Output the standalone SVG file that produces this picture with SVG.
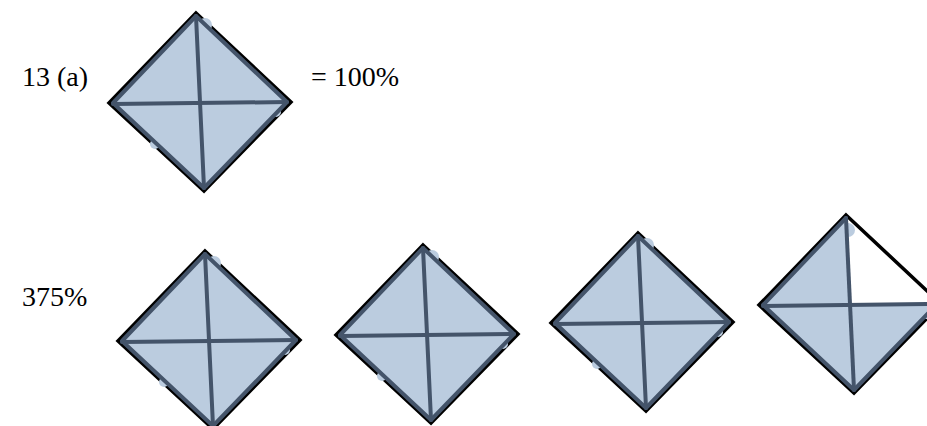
<svg xmlns="http://www.w3.org/2000/svg" xmlns:xlink="http://www.w3.org/1999/xlink" width="927" height="426" viewBox="0 0 927 426">
<style>
  .lbl { font-family: "Liberation Serif", "Times New Roman", serif; font-size: 28px; fill: #000; }
  .outer { fill: none; stroke: #000; stroke-width: 3.5; stroke-linejoin: miter; }
  .fill { fill: #BBCCDF; stroke: none; }
  .inner { fill: none; stroke: #44546A; stroke-width: 4; stroke-linejoin: round; stroke-linecap: round; }
  .blob { fill: #BBCCDF; }
</style>
<defs>
  <g id="full">
    <polygon class="outer" points="-4,-89 91,0 4,89 -91,1"/>
    <circle class="blob" cx="5" cy="-77" r="7"/>
    <circle class="blob" cx="-45" cy="42" r="5"/>
    <circle class="blob" cx="76" cy="10" r="5"/>
    <polygon class="fill" points="-4,-86 87,0 4,86 -87,1"/>
    <polygon class="inner" points="-4,-86 87,0 4,86 -87,1"/>
    <line class="inner" x1="-4" y1="-86" x2="4" y2="86"/>
    <line class="inner" x1="-87" y1="2" x2="87" y2="0"/>
  </g>
</defs>

<text class="lbl" x="22" y="86">13 (a)</text>
<text class="lbl" x="311" y="86">= 100%</text>
<text class="lbl" x="22" y="306">375%</text>

<g id="diamond-a"><use xlink:href="#full" transform="translate(200,102)"/></g>
<g id="diamond-1"><use xlink:href="#full" transform="translate(209,340)"/></g>
<g id="diamond-2"><use xlink:href="#full" transform="translate(427,334)"/></g>
<g id="diamond-3"><use xlink:href="#full" transform="translate(642,322)"/></g>
<g id="diamond-4" transform="translate(850,304)">
  <polygon class="outer" points="-4,-89 91,0 4,89 -91,1"/>
  <circle class="blob" cx="-2" cy="-74" r="7"/>
  <circle class="blob" cx="76" cy="10" r="5"/>
  <polygon class="fill" points="-4,-86 0,1 87,0 4,86 -87,1"/>
  <polyline class="inner" points="-4,-86 -87,1 4,86 87,0"/>
  <line class="inner" x1="-4" y1="-86" x2="4" y2="86"/>
  <line class="inner" x1="-87" y1="2" x2="87" y2="0"/>
</g>
</svg>
